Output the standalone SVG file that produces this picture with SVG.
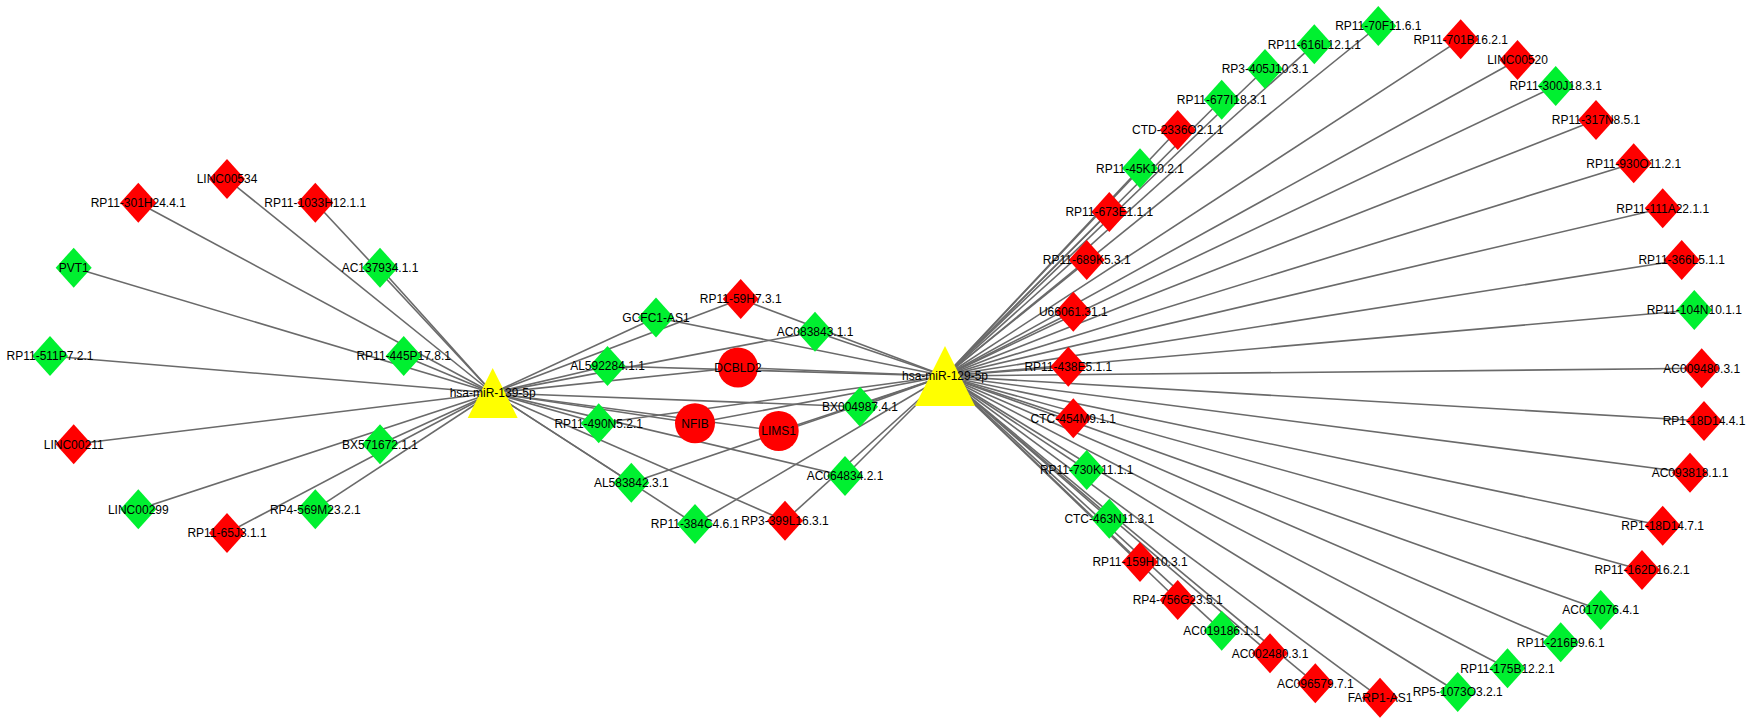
<svg xmlns="http://www.w3.org/2000/svg" xmlns:xlink="http://www.w3.org/1999/xlink" width="1750" height="724" viewBox="0 0 1750 724">
<style>
.e line{stroke:#6a6a6a;stroke-width:1.6}
.r{fill:#ff0000}
.g{fill:#00f030}
.y{fill:#ffff00}
text{font-family:"Liberation Sans",Arial,sans-serif;font-size:12px;fill:#000;text-anchor:middle}
</style>
<defs>
<polygon id="dia" points="0,-20 18,0 0,20 -18,0"/>
</defs>
<rect width="1750" height="724" fill="#fff"/>
<g id="edges" class="e">
<line x1="492.7" y1="393" x2="227" y2="179"/>
<line x1="492.7" y1="393" x2="315.3" y2="202.7"/>
<line x1="492.7" y1="393" x2="380" y2="267.7"/>
<line x1="492.7" y1="393" x2="403.7" y2="356"/>
<line x1="492.7" y1="393" x2="380" y2="444.3"/>
<line x1="492.7" y1="393" x2="315.3" y2="509.3"/>
<line x1="492.7" y1="393" x2="227" y2="533"/>
<line x1="492.7" y1="393" x2="138.3" y2="509.3"/>
<line x1="492.7" y1="393" x2="73.7" y2="444.3"/>
<line x1="492.7" y1="393" x2="50" y2="356"/>
<line x1="492.7" y1="393" x2="73.7" y2="267.7"/>
<line x1="492.7" y1="393" x2="138.3" y2="202.7"/>
<line x1="492.7" y1="393" x2="656" y2="317.5"/>
<line x1="492.7" y1="393" x2="740.7" y2="299"/>
<line x1="492.7" y1="393" x2="815" y2="331.7"/>
<line x1="492.7" y1="393" x2="607.5" y2="366"/>
<line x1="492.7" y1="393" x2="738" y2="367.5"/>
<line x1="492.7" y1="393" x2="695" y2="423.3"/>
<line x1="492.7" y1="393" x2="778.7" y2="431"/>
<line x1="492.7" y1="393" x2="860" y2="406.7"/>
<line x1="492.7" y1="393" x2="598.7" y2="423.3"/>
<line x1="492.7" y1="393" x2="631.3" y2="482.7"/>
<line x1="492.7" y1="393" x2="845" y2="476"/>
<line x1="492.7" y1="393" x2="695" y2="524"/>
<line x1="492.7" y1="393" x2="785" y2="520.7"/>
<line x1="945" y1="376" x2="656" y2="317.5"/>
<line x1="945" y1="376" x2="740.7" y2="299"/>
<line x1="945" y1="376" x2="815" y2="331.7"/>
<line x1="945" y1="376" x2="607.5" y2="366"/>
<line x1="945" y1="376" x2="738" y2="367.5"/>
<line x1="945" y1="376" x2="695" y2="423.3"/>
<line x1="945" y1="376" x2="778.7" y2="431"/>
<line x1="945" y1="376" x2="860" y2="406.7"/>
<line x1="945" y1="376" x2="598.7" y2="423.3"/>
<line x1="945" y1="376" x2="631.3" y2="482.7"/>
<line x1="945" y1="376" x2="845" y2="476"/>
<line x1="945" y1="376" x2="695" y2="524"/>
<line x1="945" y1="376" x2="785" y2="520.7"/>
<line x1="945" y1="376" x2="1378.3" y2="26"/>
<line x1="945" y1="376" x2="1314.3" y2="44.3"/>
<line x1="945" y1="376" x2="1265" y2="69"/>
<line x1="945" y1="376" x2="1221.7" y2="99.7"/>
<line x1="945" y1="376" x2="1177.7" y2="130"/>
<line x1="945" y1="376" x2="1140" y2="168.3"/>
<line x1="945" y1="376" x2="1109.3" y2="212"/>
<line x1="945" y1="376" x2="1086.7" y2="260"/>
<line x1="945" y1="376" x2="1073.3" y2="311.7"/>
<line x1="945" y1="376" x2="1068.3" y2="366.7"/>
<line x1="945" y1="376" x2="1073.3" y2="418.3"/>
<line x1="945" y1="376" x2="1086.7" y2="470"/>
<line x1="945" y1="376" x2="1109.3" y2="518.7"/>
<line x1="945" y1="376" x2="1140" y2="562"/>
<line x1="945" y1="376" x2="1177.7" y2="600"/>
<line x1="945" y1="376" x2="1221.7" y2="630.7"/>
<line x1="945" y1="376" x2="1270" y2="653.3"/>
<line x1="945" y1="376" x2="1315.3" y2="683.3"/>
<line x1="945" y1="376" x2="1380" y2="697.7"/>
<line x1="945" y1="376" x2="1457.7" y2="692"/>
<line x1="945" y1="376" x2="1507.5" y2="668.3"/>
<line x1="945" y1="376" x2="1560.7" y2="642.3"/>
<line x1="945" y1="376" x2="1600.7" y2="610"/>
<line x1="945" y1="376" x2="1642" y2="570"/>
<line x1="945" y1="376" x2="1662.7" y2="525.7"/>
<line x1="945" y1="376" x2="1690" y2="472.7"/>
<line x1="945" y1="376" x2="1704" y2="421"/>
<line x1="945" y1="376" x2="1701.7" y2="368.3"/>
<line x1="945" y1="376" x2="1694.3" y2="310"/>
<line x1="945" y1="376" x2="1681.7" y2="260"/>
<line x1="945" y1="376" x2="1662.7" y2="208.3"/>
<line x1="945" y1="376" x2="1633.7" y2="163.3"/>
<line x1="945" y1="376" x2="1596" y2="120"/>
<line x1="945" y1="376" x2="1555.7" y2="86"/>
<line x1="945" y1="376" x2="1517.5" y2="60"/>
<line x1="945" y1="376" x2="1460.7" y2="39.3"/>
</g>
<g id="nodes">
<g id="n-hsa-miR-139-5p"><polygon class="y" points="492.7,368 517.7,418 467.7,418"/><text x="492.7" y="397.3">hsa-miR-139-5p</text></g>
<g id="n-hsa-miR-129-5p"><polygon class="y" points="945,346 975,406 915,406"/><text x="945" y="380.3">hsa-miR-129-5p</text></g>
<g id="n-LINC00534"><use href="#dia" x="227" y="179" class="r"/><text x="227" y="183.3">LINC00534</text></g>
<g id="n-RP11-1033H12.1.1"><use href="#dia" x="315.3" y="202.7" class="r"/><text x="315.3" y="207">RP11-1033H12.1.1</text></g>
<g id="n-AC137934.1.1"><use href="#dia" x="380" y="267.7" class="g"/><text x="380" y="272">AC137934.1.1</text></g>
<g id="n-RP11-445P17.8.1"><use href="#dia" x="403.7" y="356" class="g"/><text x="403.7" y="360.3">RP11-445P17.8.1</text></g>
<g id="n-BX571672.1.1"><use href="#dia" x="380" y="444.3" class="g"/><text x="380" y="448.6">BX571672.1.1</text></g>
<g id="n-RP4-569M23.2.1"><use href="#dia" x="315.3" y="509.3" class="g"/><text x="315.3" y="513.6">RP4-569M23.2.1</text></g>
<g id="n-RP11-65J3.1.1"><use href="#dia" x="227" y="533" class="r"/><text x="227" y="537.3">RP11-65J3.1.1</text></g>
<g id="n-LINC00299"><use href="#dia" x="138.3" y="509.3" class="g"/><text x="138.3" y="513.6">LINC00299</text></g>
<g id="n-LINC00211"><use href="#dia" x="73.7" y="444.3" class="r"/><text x="73.7" y="448.6">LINC00211</text></g>
<g id="n-RP11-511P7.2.1"><use href="#dia" x="50" y="356" class="g"/><text x="50" y="360.3">RP11-511P7.2.1</text></g>
<g id="n-PVT1"><use href="#dia" x="73.7" y="267.7" class="g"/><text x="73.7" y="272">PVT1</text></g>
<g id="n-RP11-301H24.4.1"><use href="#dia" x="138.3" y="202.7" class="r"/><text x="138.3" y="207">RP11-301H24.4.1</text></g>
<g id="n-GCFC1-AS1"><use href="#dia" x="656" y="317.5" class="g"/><text x="656" y="321.8">GCFC1-AS1</text></g>
<g id="n-RP11-59H7.3.1"><use href="#dia" x="740.7" y="299" class="r"/><text x="740.7" y="303.3">RP11-59H7.3.1</text></g>
<g id="n-AC083843.1.1"><use href="#dia" x="815" y="331.7" class="g"/><text x="815" y="336">AC083843.1.1</text></g>
<g id="n-AL592284.1.1"><use href="#dia" x="607.5" y="366" class="g"/><text x="607.5" y="370.3">AL592284.1.1</text></g>
<g id="n-DCBLD2"><circle cx="738" cy="367.5" r="20" class="r"/><text x="738" y="371.8">DCBLD2</text></g>
<g id="n-NFIB"><circle cx="695" cy="423.3" r="20" class="r"/><text x="695" y="427.6">NFIB</text></g>
<g id="n-LIMS1"><circle cx="778.7" cy="431" r="20" class="r"/><text x="778.7" y="435.3">LIMS1</text></g>
<g id="n-BX004987.4.1"><use href="#dia" x="860" y="406.7" class="g"/><text x="860" y="411">BX004987.4.1</text></g>
<g id="n-RP11-490N5.2.1"><use href="#dia" x="598.7" y="423.3" class="g"/><text x="598.7" y="427.6">RP11-490N5.2.1</text></g>
<g id="n-AL583842.3.1"><use href="#dia" x="631.3" y="482.7" class="g"/><text x="631.3" y="487">AL583842.3.1</text></g>
<g id="n-AC064834.2.1"><use href="#dia" x="845" y="476" class="g"/><text x="845" y="480.3">AC064834.2.1</text></g>
<g id="n-RP11-384C4.6.1"><use href="#dia" x="695" y="524" class="g"/><text x="695" y="528.3">RP11-384C4.6.1</text></g>
<g id="n-RP3-399L16.3.1"><use href="#dia" x="785" y="520.7" class="r"/><text x="785" y="525">RP3-399L16.3.1</text></g>
<g id="n-RP11-70F11.6.1"><use href="#dia" x="1378.3" y="26" class="g"/><text x="1378.3" y="30.3">RP11-70F11.6.1</text></g>
<g id="n-RP11-616L12.1.1"><use href="#dia" x="1314.3" y="44.3" class="g"/><text x="1314.3" y="48.6">RP11-616L12.1.1</text></g>
<g id="n-RP3-405J10.3.1"><use href="#dia" x="1265" y="69" class="g"/><text x="1265" y="73.3">RP3-405J10.3.1</text></g>
<g id="n-RP11-677I18.3.1"><use href="#dia" x="1221.7" y="99.7" class="g"/><text x="1221.7" y="104">RP11-677I18.3.1</text></g>
<g id="n-CTD-2336O2.1.1"><use href="#dia" x="1177.7" y="130" class="r"/><text x="1177.7" y="134.3">CTD-2336O2.1.1</text></g>
<g id="n-RP11-45K10.2.1"><use href="#dia" x="1140" y="168.3" class="g"/><text x="1140" y="172.6">RP11-45K10.2.1</text></g>
<g id="n-RP11-673E1.1.1"><use href="#dia" x="1109.3" y="212" class="r"/><text x="1109.3" y="216.3">RP11-673E1.1.1</text></g>
<g id="n-RP11-689K5.3.1"><use href="#dia" x="1086.7" y="260" class="r"/><text x="1086.7" y="264.3">RP11-689K5.3.1</text></g>
<g id="n-U66061.31.1"><use href="#dia" x="1073.3" y="311.7" class="r"/><text x="1073.3" y="316">U66061.31.1</text></g>
<g id="n-RP11-438E5.1.1"><use href="#dia" x="1068.3" y="366.7" class="r"/><text x="1068.3" y="371">RP11-438E5.1.1</text></g>
<g id="n-CTC-454M9.1.1"><use href="#dia" x="1073.3" y="418.3" class="r"/><text x="1073.3" y="422.6">CTC-454M9.1.1</text></g>
<g id="n-RP11-730K11.1.1"><use href="#dia" x="1086.7" y="470" class="g"/><text x="1086.7" y="474.3">RP11-730K11.1.1</text></g>
<g id="n-CTC-463N11.3.1"><use href="#dia" x="1109.3" y="518.7" class="g"/><text x="1109.3" y="523">CTC-463N11.3.1</text></g>
<g id="n-RP11-159H10.3.1"><use href="#dia" x="1140" y="562" class="r"/><text x="1140" y="566.3">RP11-159H10.3.1</text></g>
<g id="n-RP4-756G23.5.1"><use href="#dia" x="1177.7" y="600" class="r"/><text x="1177.7" y="604.3">RP4-756G23.5.1</text></g>
<g id="n-AC019186.1.1"><use href="#dia" x="1221.7" y="630.7" class="g"/><text x="1221.7" y="635">AC019186.1.1</text></g>
<g id="n-AC002480.3.1"><use href="#dia" x="1270" y="653.3" class="r"/><text x="1270" y="657.6">AC002480.3.1</text></g>
<g id="n-AC096579.7.1"><use href="#dia" x="1315.3" y="683.3" class="r"/><text x="1315.3" y="687.6">AC096579.7.1</text></g>
<g id="n-FARP1-AS1"><use href="#dia" x="1380" y="697.7" class="r"/><text x="1380" y="702">FARP1-AS1</text></g>
<g id="n-RP5-1073O3.2.1"><use href="#dia" x="1457.7" y="692" class="g"/><text x="1457.7" y="696.3">RP5-1073O3.2.1</text></g>
<g id="n-RP11-175B12.2.1"><use href="#dia" x="1507.5" y="668.3" class="g"/><text x="1507.5" y="672.6">RP11-175B12.2.1</text></g>
<g id="n-RP11-216B9.6.1"><use href="#dia" x="1560.7" y="642.3" class="g"/><text x="1560.7" y="646.6">RP11-216B9.6.1</text></g>
<g id="n-AC017076.4.1"><use href="#dia" x="1600.7" y="610" class="g"/><text x="1600.7" y="614.3">AC017076.4.1</text></g>
<g id="n-RP11-162D16.2.1"><use href="#dia" x="1642" y="570" class="r"/><text x="1642" y="574.3">RP11-162D16.2.1</text></g>
<g id="n-RP1-18D14.7.1"><use href="#dia" x="1662.7" y="525.7" class="r"/><text x="1662.7" y="530">RP1-18D14.7.1</text></g>
<g id="n-AC093818.1.1"><use href="#dia" x="1690" y="472.7" class="r"/><text x="1690" y="477">AC093818.1.1</text></g>
<g id="n-RP1-18D14.4.1"><use href="#dia" x="1704" y="421" class="r"/><text x="1704" y="425.3">RP1-18D14.4.1</text></g>
<g id="n-AC009480.3.1"><use href="#dia" x="1701.7" y="368.3" class="r"/><text x="1701.7" y="372.6">AC009480.3.1</text></g>
<g id="n-RP11-104N10.1.1"><use href="#dia" x="1694.3" y="310" class="g"/><text x="1694.3" y="314.3">RP11-104N10.1.1</text></g>
<g id="n-RP11-366L5.1.1"><use href="#dia" x="1681.7" y="260" class="r"/><text x="1681.7" y="264.3">RP11-366L5.1.1</text></g>
<g id="n-RP11-111A22.1.1"><use href="#dia" x="1662.7" y="208.3" class="r"/><text x="1662.7" y="212.6">RP11-111A22.1.1</text></g>
<g id="n-RP11-930O11.2.1"><use href="#dia" x="1633.7" y="163.3" class="r"/><text x="1633.7" y="167.6">RP11-930O11.2.1</text></g>
<g id="n-RP11-317N8.5.1"><use href="#dia" x="1596" y="120" class="r"/><text x="1596" y="124.3">RP11-317N8.5.1</text></g>
<g id="n-RP11-300J18.3.1"><use href="#dia" x="1555.7" y="86" class="g"/><text x="1555.7" y="90.3">RP11-300J18.3.1</text></g>
<g id="n-LINC00520"><use href="#dia" x="1517.5" y="60" class="r"/><text x="1517.5" y="64.3">LINC00520</text></g>
<g id="n-RP11-701B16.2.1"><use href="#dia" x="1460.7" y="39.3" class="r"/><text x="1460.7" y="43.6">RP11-701B16.2.1</text></g>
</g>
</svg>
